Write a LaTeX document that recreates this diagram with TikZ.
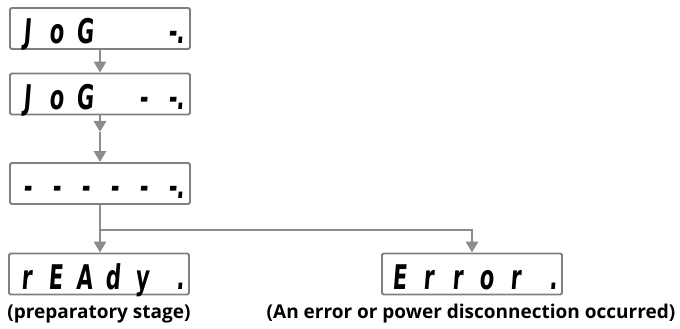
\documentclass[tikz,border=0pt]{standalone}
\usepackage{fontspec}
\setmainfont{Open Sans}
\newfontfamily\lcdfont[FakeStretch=0.62,FakeSlant=0.08]{DejaVu Sans}
\usetikzlibrary{arrows.meta}
\definecolor{boxgray}{RGB}{128,128,128}
\definecolor{arrgray}{RGB}{140,140,140}
\newcommand{\lcdcell}[1]{\makebox[29pt]{#1}}
\newcommand{\lcddot}[1]{\makebox[29pt]{#1\rlap{.}}}
\tikzset{
  lcdbox/.style={draw=boxgray, line width=1.8pt, rounded corners=1.5pt,
    minimum width=180pt, minimum height=41pt, inner sep=0pt,
    text height=32pt, text depth=1pt,
    font=\lcdfont\bfseries\fontsize{34}{34}\selectfont},
  flowline/.style={draw=arrgray, line width=2.8pt},
  flowarr/.style={flowline, -{Triangle[width=12pt,length=11pt]}},
  caption/.style={font=\bfseries\fontsize{19}{22}\selectfont, inner sep=0pt}
}
\begin{document}
\begin{tikzpicture}[x=1pt,y=1pt]
\useasboundingbox (0,0) rectangle (680,329);
\node[lcdbox] (b1) at (100,300.5) {\lcdcell{J}\lcdcell{o}\lcdcell{G}\lcdcell{}\lcdcell{}\lcddot{-}};
\node[lcdbox] (b2) at (100,235) {\lcdcell{J}\lcdcell{o}\lcdcell{G}\lcdcell{}\lcdcell{-}\lcddot{-}};
\node[lcdbox] (b3) at (100,145.5) {\lcdcell{-}\lcdcell{-}\lcdcell{-}\lcdcell{-}\lcdcell{-}\lcddot{-}};
\node[lcdbox] (rd) at (99,55) {\lcdcell{r}\lcdcell{E}\lcdcell{A}\lcdcell{d}\lcdcell{y}\lcddot{\phantom{r}}};
\node[lcdbox] (er) at (472,55) {\lcdcell{E}\lcdcell{r}\lcdcell{r}\lcdcell{o}\lcdcell{r}\lcddot{\phantom{r}}};
\node[caption] (c1) at (99,15) {(preparatory stage)};
\node[caption] (c2) at (471,15) {(An error or power disconnection occurred)};
\coordinate (m1) at (100,197);
\coordinate (j) at (100,99);
\draw[flowarr] (b1.south) -- (b2.north);
\draw[flowarr] (b2.south) -- (m1);
\draw[flowarr] (m1) -- (b3.north);
\draw[flowline] (b3.south) -- (j);
\draw[flowarr] (j) -- (j |- rd.north);
\draw[flowarr] (j) -| (er.north);
\end{tikzpicture}
\end{document}
